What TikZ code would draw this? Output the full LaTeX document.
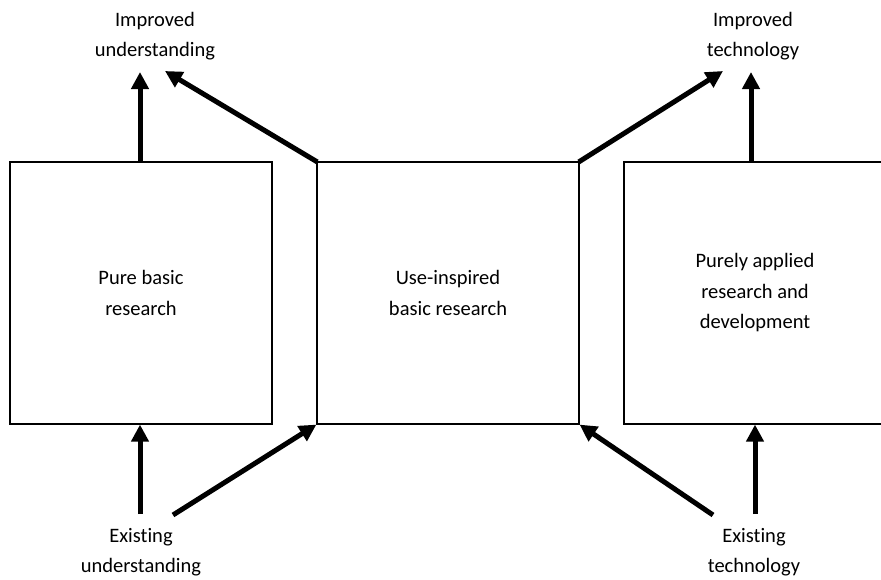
\documentclass[tikz,border=0pt]{standalone}
\usepackage{fontspec}
\setmainfont{Carlito}[Ligatures=NoCommon]
\usetikzlibrary{arrows.meta}

\tikzset{
    resbox/.style={draw, line width=1.2pt, minimum width=262pt, minimum height=262pt,
        inner sep=0pt, align=center, font=\fontsize{20.5}{30.5}\selectfont},
    lbl/.style={align=center, inner sep=0pt, font=\fontsize{20.5}{30.5}\selectfont},
    flow/.style={line width=5pt, -{Triangle[length=17pt, width=17pt]}}
}

\begin{document}
\begin{tikzpicture}[x=1pt, y=-1pt]
    \useasboundingbox (0,0) rectangle (881,579);

    % Boxes
    \node[resbox] (pure) at (141,293) {Pure basic\\research};
    \node[resbox] (useb) at (448,293) {Use-inspired\\basic research};
    \node[resbox] (appl) at (755,293) {Purely applied\\research and\\development};

    % Labels
    \node[lbl] (impu) at (155,36) {Improved\\understanding};
    \node[lbl] (impt) at (753,36) {Improved\\technology};
    \node[lbl] (exu) at (141,552) {Existing\\understanding};
    \node[lbl] (ext) at (754,552) {Existing\\technology};

    % Arrow ends
    \coordinate (tu1) at (140,72);
    \coordinate (tu2) at (165,71);
    \coordinate (tt1) at (723,71);
    \coordinate (tt2) at (751,72);
    \coordinate (su1) at (140,514);
    \coordinate (su2) at (173,515);
    \coordinate (st1) at (713,515);
    \coordinate (st2) at (755,514);

    % Outputs
    \draw[flow] (pure.north -| tu1) -- (tu1);
    \draw[flow, shorten <=-1pt] (useb.north west) -- (tu2);
    \draw[flow, shorten <=-1pt] (useb.north east) -- (tt1);
    \draw[flow] (appl.north -| tt2) -- (tt2);

    % Inputs
    \draw[flow] (su1) -- (pure.south -| su1);
    \draw[flow] (su2) -- (useb.south west);
    \draw[flow] (st1) -- (useb.south east);
    \draw[flow] (st2) -- (appl.south -| st2);
\end{tikzpicture}
\end{document}
